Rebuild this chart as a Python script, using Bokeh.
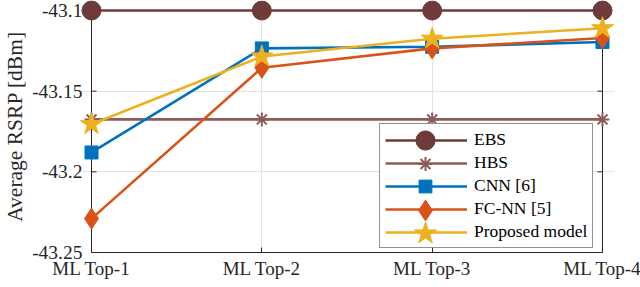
import math
from bokeh.plotting import figure
from bokeh.models import Range1d, FixedTicker, Legend, LegendItem, ColumnDataSource, Span
from bokeh.embed import file_html
from bokeh.resources import INLINE

categories = ["ML Top-1", "ML Top-2", "ML Top-3", "ML Top-4"]
ebs = [-43.1, -43.1, -43.1, -43.1]
hbs = [-43.1675, -43.1675, -43.1675, -43.1675]
cnn = [-43.188, -43.1235, -43.1225, -43.1195]
fcnn = [-43.229, -43.1355, -43.1235, -43.117]
proposed = [-43.1705, -43.1285, -43.1175, -43.111]
yticks = [-43.25, -43.2, -43.15, -43.1]
ytick_labels = ["-43.25", "-43.2", "-43.15", "-43.1"]

xs = list(range(len(categories)))
src = ColumnDataSource(dict(x=xs, ebs=ebs, hbs=hbs, cnn=cnn, fcnn=fcnn, proposed=proposed))

FONT = "Liberation Serif"
AX = "#262626"
y_lo, y_hi = yticks[0], yticks[-1]

FW, FH = 535, 252
p = figure(frame_width=FW, frame_height=FH,
           min_border_left=75, min_border_right=30, min_border_top=0, min_border_bottom=35,
           x_range=Range1d(-0.0705, xs[-1] + 0.0705),
           y_range=Range1d(y_lo, y_hi + 0.0062),
           output_backend="svg", toolbar_location=None)
p.outline_line_color = None
p.background_fill_color = "white"
p.border_fill_color = "white"

xa = p.xaxis[0]
xa.ticker = FixedTicker(ticks=xs)
xa.major_label_overrides = {i: c for i, c in zip(xs, categories)}
xa.bounds = (xs[0], xs[-1])
xa.major_tick_in = 5
xa.major_tick_out = 0
xa.axis_line_color = AX
xa.major_tick_line_color = AX
xa.major_label_standoff = 5

ya = p.yaxis[0]
ya.ticker = FixedTicker(ticks=yticks)
ya.major_label_overrides = {t: l for t, l in zip(yticks, ytick_labels)}
ya.bounds = (y_lo, y_hi)
ya.axis_line_color = None
ya.major_tick_in = 0
ya.major_tick_out = 0
ya.major_label_standoff = -3
ya.axis_label = "Average RSRP [dBm]"
ya.axis_label_text_font = FONT
ya.axis_label_text_font_size = "21.5px"
ya.axis_label_text_font_style = "normal"
ya.axis_label_text_color = AX
ya.axis_label_standoff = 2

for ax in (xa, ya):
    ax.minor_tick_in = 0
    ax.minor_tick_out = 0
    ax.major_label_text_font = FONT
    ax.major_label_text_color = AX
ya.major_label_text_font_size = "19.5px"
xa.major_label_text_font_size = "19px"

p.xgrid.ticker = FixedTicker(ticks=xs)
p.ygrid.ticker = FixedTicker(ticks=yticks)
p.xgrid.bounds = (y_lo, y_hi)
p.ygrid.bounds = (xs[0], xs[-1])
for g in (p.xgrid, p.ygrid):
    g.grid_line_color = "#E4E4E4"
    g.grid_line_width = 1

# box lines (left / right) and inward ticks
for loc in (xs[0], xs[-1]):
    p.add_layout(Span(location=loc, dimension="height", line_color=AX, line_width=1, level="underlay"))
p.ray(x=[xs[0]] * len(yticks), y=yticks, length=5, length_units="screen", angle=0,
      line_color=AX, line_width=1)
p.ray(x=[xs[-1]] * len(yticks), y=yticks, length=5, length_units="screen", angle=math.pi,
      line_color=AX, line_width=1)

series = [
    ("EBS", "ebs", "#6E3A3A", "circle", 19),
    ("HBS", "hbs", "#8E5A5A", "asterisk", 14),
    ("CNN [6]", "cnn", "#0072BD", "square", 13),
    ("FC-NN [5]", "fcnn", "#D95319", "diamond", 21),
    ("Proposed model", "proposed", "#EDB120", "star", 23),
]
line_items = []
marker_rs = []
for label, col, color, marker, size in series:
    lr = p.line("x", col, source=src, line_color=color, line_width=2.6)
    sr = p.scatter("x", col, source=src, marker=marker, size=size,
                   fill_color=color, line_color=color, line_width=2 if marker == "asterisk" else 1)
    line_items.append(LegendItem(label=label, renderers=[lr]))
    marker_rs.append((sr, size))

LX, LY, PAD, GW, SP, ROW = 300, 4, 5, 82, 2, 21
legend = Legend(items=line_items, location=(LX, LY), margin=0, padding=PAD, spacing=SP,
                glyph_width=GW, glyph_height=20, label_height=20, label_standoff=7,
                label_text_font=FONT, label_text_font_size="17.5px", label_text_color="black",
                border_line_color=AX, border_line_width=1, background_fill_color="white",
                background_fill_alpha=1.0)
p.add_layout(legend)

# big legend markers (Bokeh draws legend markers at 0.4 x glyph height)
n = len(series)
for i, (sr, size) in enumerate(marker_rs):
    gh = int(round(size / 0.4))
    center_from_bottom = LY + PAD + ROW / 2 + (n - 1 - i) * (ROW + SP)
    lg = Legend(items=[LegendItem(label=" ", renderers=[sr])],
                location=(LX + PAD, int(round(center_from_bottom - gh / 2))),
                margin=0, padding=0, glyph_width=GW, glyph_height=gh, label_height=gh,
                label_text_font_size="1px", border_line_color=None, background_fill_alpha=0)
    p.add_layout(lg)

open("out.html", "w").write(file_html(p, INLINE))
